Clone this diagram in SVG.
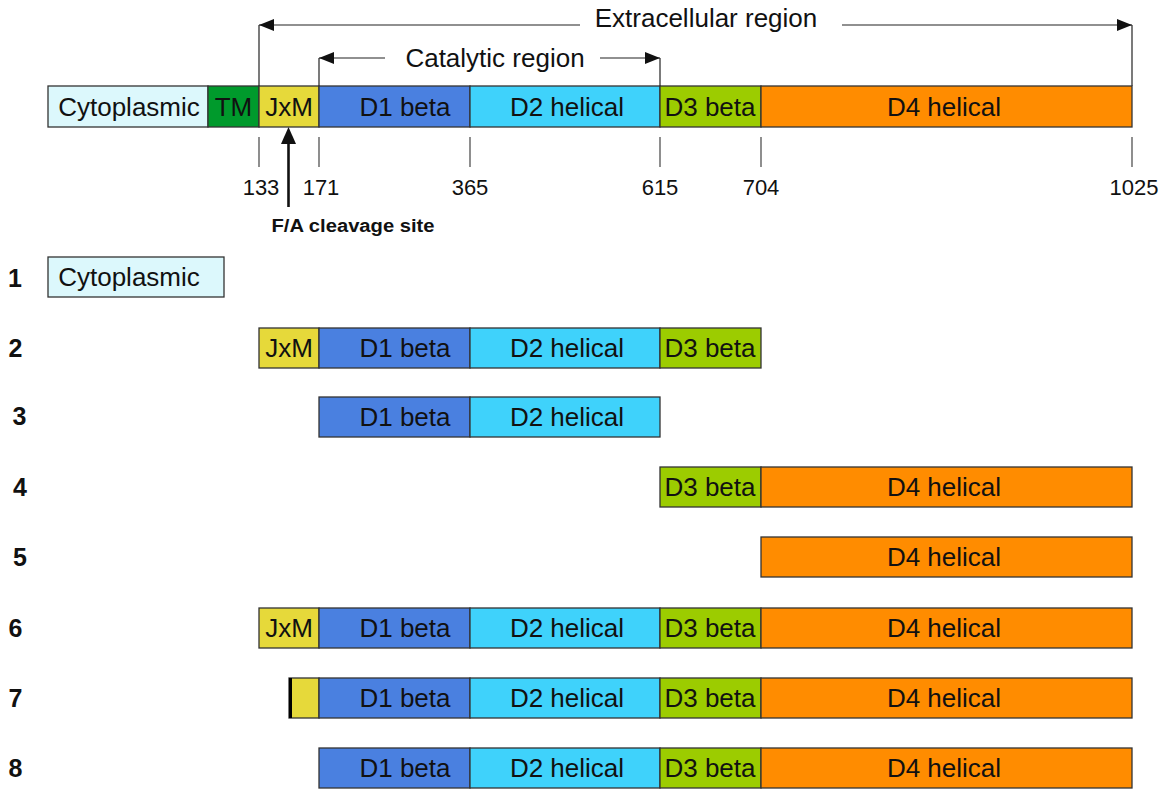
<svg xmlns="http://www.w3.org/2000/svg" width="1173" height="793" viewBox="0 0 1173 793">
<defs>
<style>
.b{stroke:#333;stroke-width:1.3}
.cy{fill:#dcf8fc}.tm{fill:#009a2c}.jx{fill:#e6d93a}.d1{fill:#4a80e0}.d2{fill:#3fd2fb}.d3{fill:#9ccc00}.d4{fill:#ff8c00}
.t{font-family:"Liberation Sans",Arial,sans-serif;font-size:26px;fill:#111;text-anchor:middle}
.n{font-family:"Liberation Sans",Arial,sans-serif;font-size:22px;fill:#111;text-anchor:middle}
.r{font-family:"Liberation Sans",Arial,sans-serif;font-size:25px;font-weight:bold;fill:#111;text-anchor:middle}
.ln{stroke:#222;stroke-width:1.2;fill:none}
.tk{stroke:#444;stroke-width:1.2}
</style>
<marker id="ah" viewBox="0 0 15 12" refX="15" refY="6" markerWidth="15" markerHeight="12" markerUnits="userSpaceOnUse" orient="auto"><path d="M0,0L15,6L0,12z" fill="#111"/></marker>
</defs>
<g id="connectors">
<line class="ln" x1="580" y1="25" x2="259" y2="25" marker-end="url(#ah)"/>
<line class="ln" x1="259" y1="25" x2="259" y2="86"/>
<line class="ln" x1="842" y1="25" x2="1132" y2="25" marker-end="url(#ah)"/>
<line class="ln" x1="1132" y1="25" x2="1132" y2="86"/>
<line class="ln" x1="385" y1="58" x2="319" y2="58" marker-end="url(#ah)"/>
<line class="ln" x1="319" y1="58" x2="319" y2="86"/>
<line class="ln" x1="600" y1="58" x2="660" y2="58" marker-end="url(#ah)"/>
<line class="ln" x1="660" y1="58" x2="660" y2="86"/>
<line class="tk" x1="259" y1="137" x2="259" y2="167"/>
<line class="tk" x1="319" y1="137" x2="319" y2="167"/>
<line class="tk" x1="470" y1="137" x2="470" y2="167"/>
<line class="tk" x1="660" y1="137" x2="660" y2="167"/>
<line class="tk" x1="761" y1="137" x2="761" y2="167"/>
<line class="tk" x1="1132" y1="137" x2="1132" y2="167"/>
<line x1="288.5" y1="207" x2="288.5" y2="142" stroke="#111" stroke-width="2.6"/>
<polygon points="288.5,127 281,144 296,144" fill="#111"/>
</g>
<g id="labels">
<text class="t" x="706" y="27">Extracellular region</text>
<text class="t" x="495" y="67">Catalytic region</text>
<text class="n" x="261" y="195">133</text>
<text class="n" x="321" y="195">171</text>
<text class="n" x="470" y="195">365</text>
<text class="n" x="660" y="195">615</text>
<text class="n" x="761" y="195">704</text>
<text class="n" x="1134" y="195">1025</text>
<text x="353" y="232" font-family="Liberation Sans,Arial,sans-serif" font-size="18" font-weight="bold" fill="#111" text-anchor="middle" textLength="163" lengthAdjust="spacingAndGlyphs">F/A cleavage site</text>
</g>
<g id="full">
<rect class="b cy" x="48" y="86" width="160" height="41"/>
<rect class="b tm" x="208" y="86" width="51" height="41"/>
<rect class="b jx" x="259" y="86" width="60" height="41"/>
<rect class="b d1" x="319" y="86" width="151" height="41"/>
<rect class="b d2" x="470" y="86" width="190" height="41"/>
<rect class="b d3" x="660" y="86" width="101" height="41"/>
<rect class="b d4" x="761" y="86" width="371" height="41"/>
<text class="t" x="129" y="116">Cytoplasmic</text>
<text class="t" x="233.5" y="116">TM</text>
<text class="t" x="289" y="116">JxM</text>
<text class="t" x="405" y="116">D1 beta</text>
<text class="t" x="567" y="116">D2 helical</text>
<text class="t" x="710" y="116">D3 beta</text>
<text class="t" x="944" y="116">D4 helical</text>
</g>
<g id="row1">
<text class="r" x="15" y="287">1</text>
<rect class="b cy" x="48" y="257" width="176" height="40"/>
<text class="t" x="129" y="286">Cytoplasmic</text>
</g>
<g id="row2">
<text class="r" x="15.5" y="357">2</text>
<rect class="b jx" x="259" y="328" width="60" height="40"/>
<rect class="b d1" x="319" y="328" width="151" height="40"/>
<rect class="b d2" x="470" y="328" width="190" height="40"/>
<rect class="b d3" x="660" y="328" width="101" height="40"/>
<text class="t" x="289" y="357">JxM</text>
<text class="t" x="405" y="357">D1 beta</text>
<text class="t" x="567" y="357">D2 helical</text>
<text class="t" x="710" y="357">D3 beta</text>
</g>
<g id="row3">
<text class="r" x="19.5" y="425">3</text>
<rect class="b d1" x="319" y="397" width="151" height="40"/>
<rect class="b d2" x="470" y="397" width="190" height="40"/>
<text class="t" x="405" y="426">D1 beta</text>
<text class="t" x="567" y="426">D2 helical</text>
</g>
<g id="row4">
<text class="r" x="20" y="496">4</text>
<rect class="b d3" x="660" y="467" width="101" height="40"/>
<rect class="b d4" x="761" y="467" width="371" height="40"/>
<text class="t" x="710" y="496">D3 beta</text>
<text class="t" x="944" y="496">D4 helical</text>
</g>
<g id="row5">
<text class="r" x="20" y="566">5</text>
<rect class="b d4" x="761" y="537" width="371" height="40"/>
<text class="t" x="944" y="566">D4 helical</text>
</g>
<g id="row6">
<text class="r" x="15.5" y="637">6</text>
<rect class="b jx" x="259" y="608" width="60" height="40"/>
<rect class="b d1" x="319" y="608" width="151" height="40"/>
<rect class="b d2" x="470" y="608" width="190" height="40"/>
<rect class="b d3" x="660" y="608" width="101" height="40"/>
<rect class="b d4" x="761" y="608" width="371" height="40"/>
<text class="t" x="289" y="637">JxM</text>
<text class="t" x="405" y="637">D1 beta</text>
<text class="t" x="567" y="637">D2 helical</text>
<text class="t" x="710" y="637">D3 beta</text>
<text class="t" x="944" y="637">D4 helical</text>
</g>
<g id="row7">
<text class="r" x="15.5" y="707">7</text>
<rect class="b jx" x="289" y="678" width="30" height="40"/>
<line x1="290.5" y1="678" x2="290.5" y2="718" stroke="#000" stroke-width="3"/>
<rect class="b d1" x="319" y="678" width="151" height="40"/>
<rect class="b d2" x="470" y="678" width="190" height="40"/>
<rect class="b d3" x="660" y="678" width="101" height="40"/>
<rect class="b d4" x="761" y="678" width="371" height="40"/>
<text class="t" x="405" y="707">D1 beta</text>
<text class="t" x="567" y="707">D2 helical</text>
<text class="t" x="710" y="707">D3 beta</text>
<text class="t" x="944" y="707">D4 helical</text>
</g>
<g id="row8">
<text class="r" x="15.5" y="777">8</text>
<rect class="b d1" x="319" y="748" width="151" height="40"/>
<rect class="b d2" x="470" y="748" width="190" height="40"/>
<rect class="b d3" x="660" y="748" width="101" height="40"/>
<rect class="b d4" x="761" y="748" width="371" height="40"/>
<text class="t" x="405" y="777">D1 beta</text>
<text class="t" x="567" y="777">D2 helical</text>
<text class="t" x="710" y="777">D3 beta</text>
<text class="t" x="944" y="777">D4 helical</text>
</g>
</svg>
